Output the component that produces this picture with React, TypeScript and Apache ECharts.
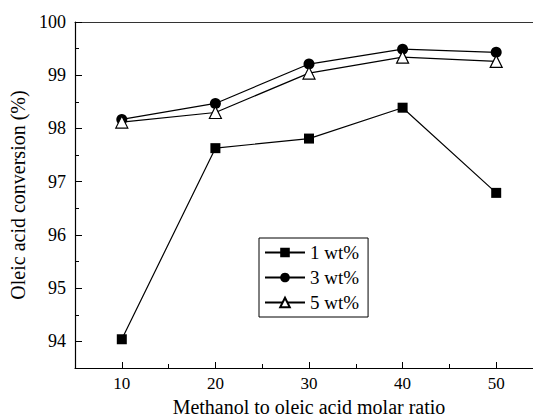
import React, { useEffect, useRef } from "react";
import * as echarts from "echarts";

const ratios = [10, 20, 30, 40, 50];
const wt1 = [94.04, 97.63, 97.81, 98.39, 96.79];
const wt3 = [98.17, 98.47, 99.21, 99.49, 99.43];
const wt5 = [98.12, 98.3, 99.04, 99.34, 99.26];
const seriesNames = ["1 wt%", "3 wt%", "5 wt%"];
const xMajor = [10, 20, 30, 40, 50];
const xMinor = [15, 25, 35, 45];
const yMajor = [94, 95, 96, 97, 98, 99, 100];
const yMinor = [94.5, 95.5, 96.5, 97.5, 98.5, 99.5];

const FONT = "Liberation Serif";

export default function App() {
  const ref = useRef<HTMLDivElement>(null);
  useEffect(() => {
    if (!ref.current) return;
    const chart = echarts.init(ref.current, null, { renderer: "svg" });
    const pair = (ys: number[]) => ratios.map((x, i) => [x, ys[i]]);
    const lineStyle = { color: "#000", width: 1.2 };
    const baseX = {
      type: "value" as const,
      min: 5,
      max: 55,
      gridIndex: 0,
      splitLine: { show: false },
    };
    const baseY = {
      type: "value" as const,
      min: 93.5,
      max: 100,
      splitLine: { show: false },
    };
    chart.setOption({
      animation: false,
      backgroundColor: "#fff",
      grid: { left: 75, top: 22, right: 17, bottom: 50, outerBoundsMode: "none", containLabel: false },
      legend: {
        orient: "vertical",
        left: 259,
        top: 238,
        padding: [5, 9, 5, 5],
        borderColor: "#000",
        borderWidth: 1,
        borderRadius: 0,
        itemWidth: 40,
        itemHeight: 12,
        itemGap: 6,
        textStyle: { fontFamily: FONT, fontSize: 19, color: "#000" },
        data: seriesNames,
      },
      xAxis: [
        {
          ...baseX,
          position: "bottom",
          name: "Methanol to oleic acid molar ratio",
          nameLocation: "middle",
          nameGap: 27,
          nameTextStyle: { fontFamily: FONT, fontSize: 20, color: "#000" },
          axisLine: { lineStyle: { color: "#000", width: 1.2 } },
          axisTick: { inside: true, length: 6, customValues: xMajor, lineStyle: { color: "#000" } },
          axisLabel: { customValues: xMajor, fontFamily: FONT, fontSize: 17, color: "#000", margin: 7 },
        },
        {
          ...baseX,
          position: "bottom",
          axisLine: { show: false },
          axisTick: { inside: true, length: 4, customValues: xMinor, lineStyle: { color: "#000" } },
          axisLabel: { show: false },
        },
        {
          ...baseX,
          position: "top",
          axisLine: { lineStyle: { color: "#333", width: 1.2 } },
          axisTick: { show: false },
          axisLabel: { show: false },
        },
      ],
      yAxis: [
        {
          ...baseY,
          position: "left",
          name: "Oleic acid conversion (%)",
          nameLocation: "middle",
          nameGap: 44,
          nameTextStyle: { fontFamily: FONT, fontSize: 20, color: "#000" },
          axisLine: { show: true, lineStyle: { color: "#000", width: 1.2 } },
          axisTick: { show: true, inside: true, length: 7, customValues: yMajor, lineStyle: { color: "#000" } },
          axisLabel: { customValues: yMajor, fontFamily: FONT, fontSize: 18, color: "#000", margin: 9 },
        },
        {
          ...baseY,
          position: "left",
          axisLine: { show: false },
          axisTick: { show: true, inside: true, length: 4, customValues: yMinor, lineStyle: { color: "#000" } },
          axisLabel: { show: false },
        },
      ],
      series: [
        {
          name: seriesNames[0],
          type: "line",
          data: pair(wt1),
          symbol: "rect",
          symbolSize: 10,
          lineStyle,
          itemStyle: { color: "#000" },
        },
        {
          name: seriesNames[1],
          type: "line",
          data: pair(wt3),
          symbol: "circle",
          symbolSize: 11,
          lineStyle,
          itemStyle: { color: "#000" },
        },
        {
          name: seriesNames[2],
          type: "line",
          data: pair(wt5),
          symbol: "triangle",
          symbolSize: 12,
          lineStyle,
          itemStyle: { color: "#fff", borderColor: "#000", borderWidth: 1.2 },
        },
      ],
    });
    return () => chart.dispose();
  }, []);
  return (
    <div
      style={{
        position: "fixed",
        left: 0,
        top: 0,
        width: 533,
        height: 418,
        overflow: "hidden",
        background: "#fff",
      }}
    >
      <div ref={ref} style={{ width: 560, height: 418 }} />
    </div>
  );
}
